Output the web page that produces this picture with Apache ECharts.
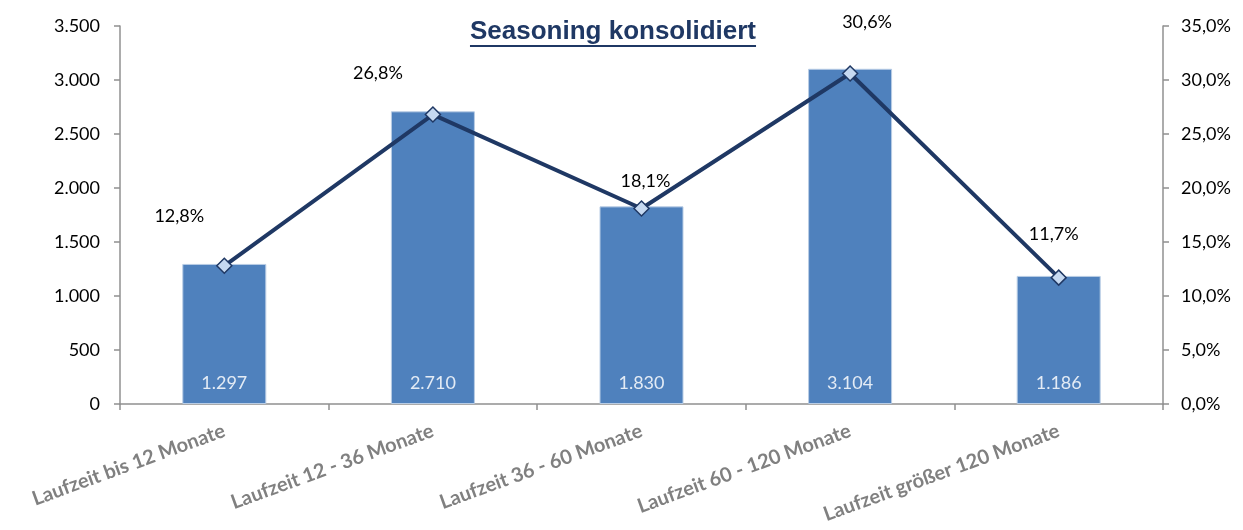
<!DOCTYPE html>
<html><head><meta charset="utf-8">
<script src="https://cdn.jsdelivr.net/npm/echarts@6/dist/echarts.min.js"></script>
<style>html,body{margin:0;padding:0;background:#fff}#c{width:1243px;height:530px}</style>
</head><body><div id="c"></div>
<script>
const categories = ['Laufzeit bis 12 Monate','Laufzeit 12 - 36 Monate','Laufzeit 36 - 60 Monate','Laufzeit 60 - 120 Monate','Laufzeit größer 120 Monate'];
const volumes = [1297, 2710, 1830, 3104, 1186];
const shares = [12.8, 26.8, 18.1, 30.6, 11.7];
const titleText = 'Seasoning konsolidiert';

const labelOffsets = [[-45,-22],[-55,-14],[4,0],[17,-24],[-5,-16]];
const fmtThousands = v => String(Math.round(v)).replace(/\B(?=(\d{3})+(?!\d))/g,'.');
const fmtPct = v => v.toFixed(1).replace('.',',') + '%';

const titleFont = 'bold 26px "Liberation Sans", Arial, sans-serif';
const mctx = document.createElement('canvas').getContext('2d');
mctx.font = titleFont;
const titleW = mctx.measureText(titleText).width;
const titleCx = 613;

const chart = echarts.init(document.getElementById('c'), null, {renderer:'canvas'});
const baseFont = 'Lato, "Open Sans", sans-serif';
const axisFont = {fontFamily:baseFont, fontSize:18, color:'#000'};
chart.setOption({
  animation:false,
  graphic:[
    {type:'text',left:titleCx-titleW/2,top:19,z:10,style:{text:titleText,font:titleFont,fill:'#1F3864'}},
    {type:'rect',shape:{x:titleCx-titleW/2,y:45,width:titleW,height:2},style:{fill:'#1F3864'},z:10}
  ],
  grid:{left:120,right:80,top:26,bottom:126,containLabel:false},
  xAxis:{type:'category',data:categories,boundaryGap:true,
    axisLine:{lineStyle:{color:'#909090',width:1.5}},
    axisTick:{show:true,alignWithLabel:false,length:6,lineStyle:{color:'#909090',width:1.5}},
    axisLabel:{rotate:20,interval:0,margin:26,fontFamily:baseFont,fontSize:20,fontWeight:'bold',color:'#808080'}},
  yAxis:[
    {type:'value',min:0,max:3500,interval:500,splitLine:{show:false},
     axisLine:{show:true,lineStyle:{color:'#909090',width:1.5}},
     axisTick:{show:true,length:6,lineStyle:{color:'#909090',width:1.5}},
     axisLabel:Object.assign({formatter:fmtThousands,margin:20},axisFont)},
    {type:'value',min:0,max:35,interval:5,splitLine:{show:false},
     axisLine:{show:true,lineStyle:{color:'#909090',width:1.5}},
     axisTick:{show:true,length:6,lineStyle:{color:'#909090',width:1.5}},
     axisLabel:Object.assign({formatter:fmtPct,margin:18},axisFont)}
  ],
  series:[
    {type:'bar',yAxisIndex:0,barWidth:84,data:volumes,
     itemStyle:{color:'#4F81BD',borderColor:'#B9CDE5',borderWidth:1},
     label:{show:true,position:'insideBottom',distance:12,formatter:p=>fmtThousands(p.value),
       fontFamily:baseFont,fontSize:18,color:'#E3EBF5'}},
    {type:'line',yAxisIndex:1,z:5,
     data:shares.map((v,i)=>({value:v,label:{offset:labelOffsets[i]}})),
     symbol:'diamond',symbolSize:15,
     lineStyle:{color:'#1F3864',width:4},
     itemStyle:{color:'#C6D9F1',borderColor:'#1F3864',borderWidth:1.5},
     label:{show:true,position:'top',distance:10,formatter:p=>fmtPct(p.value),
       fontFamily:baseFont,fontSize:18,color:'#000'}}
  ]
});
</script></body></html>
